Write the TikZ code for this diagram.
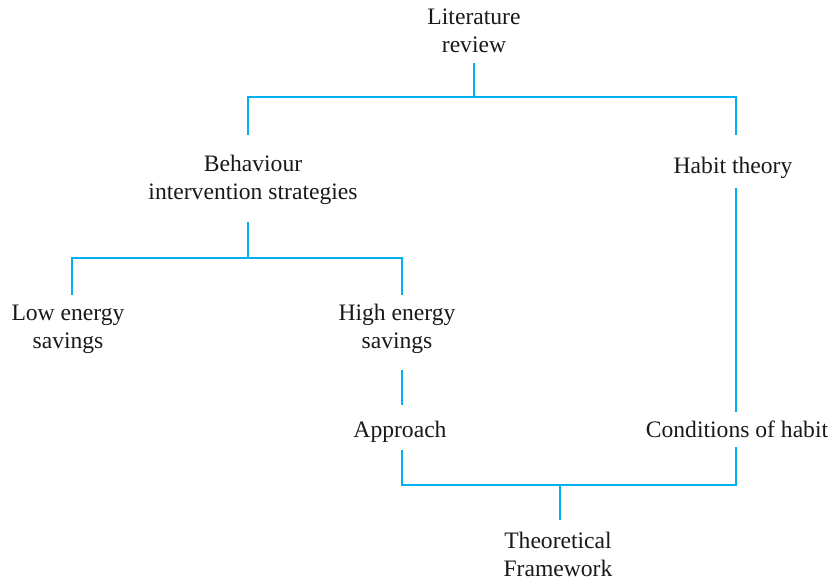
\documentclass[tikz,border=0pt]{standalone}
\usepackage{fontspec}
\setmainfont{Liberation Serif}
\usetikzlibrary{calc}
\definecolor{linkblue}{RGB}{0,176,240}
\begin{document}
\begin{tikzpicture}[x=1pt,y=1pt,
  lbl/.style={align=center,inner sep=0pt,font=\fontsize{23.6}{28}\selectfont,text=black!90},
  link/.style={draw=linkblue,line width=1.5pt}]
\useasboundingbox (0,0) rectangle (832,580);
\node[lbl] (lit) at (474,549) {Literature\\review};
\node[lbl] (beh) at (253,400) {Behaviour\\intervention strategies};
\node[lbl] (habit) at (733,412) {Habit theory};
\node[lbl] (low) at (68,251) {Low energy\\savings};
\node[lbl] (high) at (397,251) {High energy\\savings};
\node[lbl] (appr) at (400,148) {Approach};
\node[lbl] (cond) at (737,151) {Conditions of habit};
\node[lbl] (theo) at (558,26) {Theoretical\\Framework};

\draw[link] ($(lit)+(0,-32)$) -- ($(lit)+(0,-66)$);
\draw[link] ($(beh)+(-5,45)$) |- ($(lit)+(0,-66)$) -| ($(habit)+(3,33)$);
\draw[link] ($(habit)+(3,-20)$) -- ($(cond)+(-1,17)$);
\draw[link] ($(beh)+(-5,-42)$) -- ($(beh)+(-5,-78)$);
\draw[link] ($(low)+(4,34)$) |- ($(beh)+(-5,-78)$) -| ($(high)+(5,34)$);
\draw[link] ($(high)+(5,-41)$) -- ($(appr)+(2,27)$);
\draw[link] ($(appr)+(2,-18)$) |- ($(theo)+(2,69)$) -| ($(cond)+(-1,-18)$);
\draw[link] ($(theo)+(2,69)$) -- ($(theo)+(2,34)$);
\end{tikzpicture}
\end{document}
